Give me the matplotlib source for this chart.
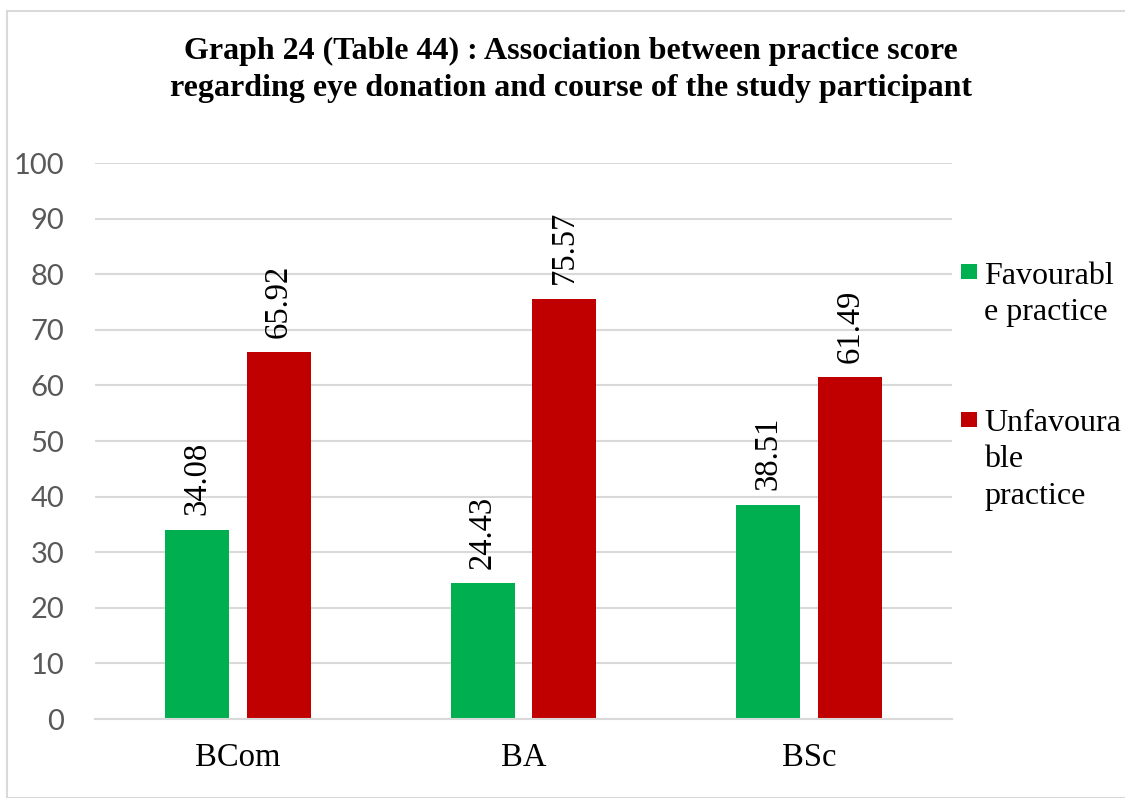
import matplotlib
matplotlib.use("Agg")
import matplotlib.pyplot as plt
from matplotlib.patches import Rectangle
import numpy as np

# Data
courses = ["BCom", "BA", "BSc"]
favourable = [34.08, 24.43, 38.51]
unfavourable = [65.92, 75.57, 61.49]
series_labels = ["Favourabl\ne practice", "Unfavoura\nble\npractice"]
series_colors = ["#00B050", "#C00000"]
yticks = [0, 10, 20, 30, 40, 50, 60, 70, 80, 90, 100]
title = ("Graph 24 (Table 44) : Association between practice score\n"
         "regarding eye donation and course of the study participant")

serif = "Liberation Serif"
tick_font = "Lato"

fig = plt.figure(figsize=(11.25, 7.98), dpi=100)
fig.patch.set_facecolor("white")

# outer chart border
fig.add_artist(Rectangle((7 / 1125, 0.0), 1.2, 1 - 11 / 798, transform=fig.transFigure,
                         fill=False, edgecolor="#D9D9D9", linewidth=1.5))

ax = fig.add_axes([95 / 1125, 1 - 719 / 798, 857 / 1125, (719 - 163) / 798])

x = np.arange(len(courses))
width = 0.224
offset = 0.1435
series = [favourable, unfavourable]
for i, (vals, col) in enumerate(zip(series, series_colors)):
    pos = x + (-offset if i == 0 else offset)
    bars = ax.bar(pos, vals, width=width, color=col, zorder=3)
    for b, v in zip(bars, vals):
        ax.text(b.get_x() + b.get_width() / 2, v + 2.6, f"{v:.2f}",
                rotation=90, ha="center", va="bottom",
                fontsize=23.5, family=serif, color="black")

ax.set_xlim(-0.5, 2.5)
ax.set_ylim(0, 100)
ax.set_yticks(yticks)
ax.set_yticklabels([str(t) for t in yticks], family=tick_font, fontsize=21, color="#595959")
ax.set_xticks(x)
ax.set_xticklabels(courses, family=serif, fontsize=23.5, color="black")
ax.tick_params(axis="both", length=0)
ax.tick_params(axis="y", pad=22)
ax.tick_params(axis="x", pad=17)
ax.yaxis.grid(True, color="#D9D9D9", linewidth=1.5, zorder=0)
ax.set_axisbelow(True)
for s in ["top", "right", "left"]:
    ax.spines[s].set_visible(False)
ax.spines["bottom"].set_color("#D9D9D9")
ax.spines["bottom"].set_linewidth(1.5)
ax.spines["bottom"].set_zorder(4)

fig.text(571 / 1125, 1 - 70 / 798, title, ha="center", va="center",
         family=serif, fontweight="bold", fontsize=23, linespacing=1.38)

# legend
legend_tops = [262, 409]
square_tops = [264, 412]
for lbl, col, top, sq in zip(series_labels, series_colors, legend_tops, square_tops):
    fig.add_artist(Rectangle((961 / 1125, 1 - (sq + 15) / 798), 16 / 1125, 15 / 798,
                             transform=fig.transFigure, facecolor=col, edgecolor="none"))
    fig.text(984 / 1125, 1 - top / 798, lbl, ha="left", va="top",
             family=serif, fontsize=23, linespacing=1.33)

fig.savefig("out.png", dpi=100)
